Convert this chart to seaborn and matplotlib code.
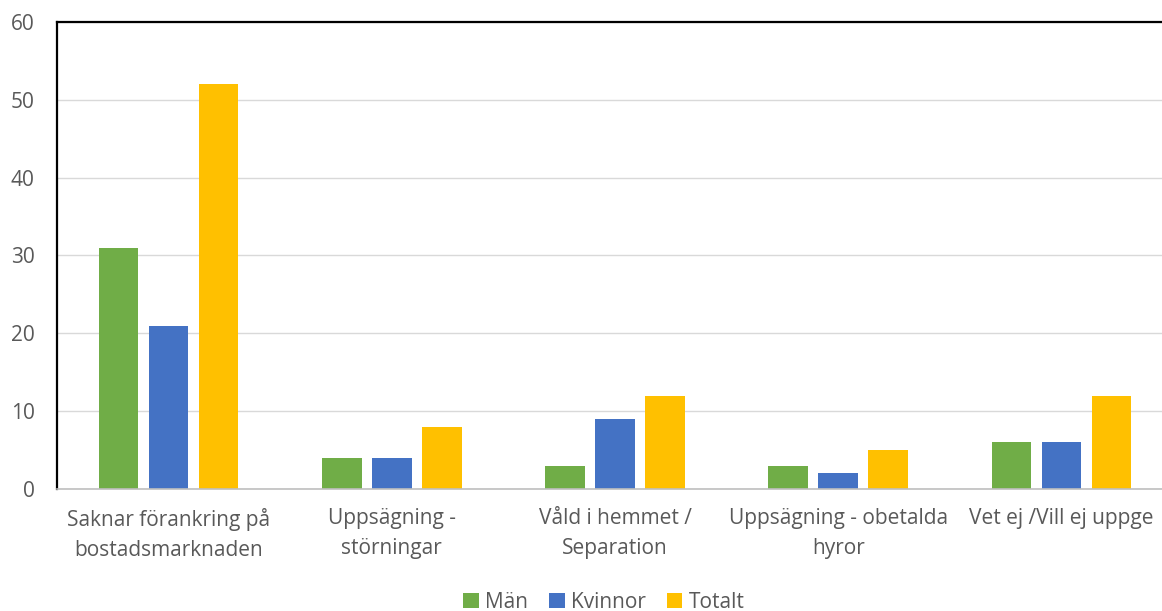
import pandas as pd
import matplotlib.pyplot as plt
import seaborn as sns

# Data
categories = ['Saknar förankring på\nbostadsmarknaden', 'Uppsägning -\nstörningar',
              'Våld i hemmet /\nSeparation', 'Uppsägning - obetalda\nhyror', 'Vet ej /Vill ej uppge']
man = [31, 4, 3, 3, 6]
kvinnor = [21, 4, 9, 2, 6]
totalt = [52, 8, 12, 5, 12]
series = ['Män', 'Kvinnor', 'Totalt']

df = pd.DataFrame({'Kategori': categories, 'Män': man, 'Kvinnor': kvinnor, 'Totalt': totalt})
long_df = df.melt(id_vars='Kategori', var_name='Grupp', value_name='Antal')

sns.set_style('white')
plt.rcParams['font.family'] = ['Open Sans', 'DejaVu Sans']
text_color = '#595959'

palette = {'Män': '#70AD47', 'Kvinnor': '#4472C4', 'Totalt': '#FFC000'}

fig = plt.figure(figsize=(11.62, 6.11), dpi=100)
ax = fig.add_axes([0.049, 0.1997, 0.9605, 0.7643])

sns.barplot(data=long_df, x='Kategori', y='Antal', hue='Grupp', hue_order=series,
            palette=palette, width=0.672, gap=0.21, saturation=1, linewidth=0, ax=ax)

ax.set_ylim(0, 60)
ax.set_yticks(range(0, 61, 10))
ax.set_xlim(-0.5, len(categories) - 0.5)
ax.grid(axis='y', color='#D9D9D9', linewidth=1)
ax.set_axisbelow(True)
ax.set_xlabel('')
ax.set_ylabel('')
ax.tick_params(axis='both', length=0, labelsize=15, colors=text_color)
ax.tick_params(axis='x', pad=14)
ax.tick_params(axis='y', pad=16)
for lbl in ax.get_xticklabels():
    lbl.set_linespacing(1.55)

for side in ['top', 'left']:
    ax.spines[side].set_color('black')
    ax.spines[side].set_linewidth(1.6)
ax.spines['right'].set_visible(False)
ax.spines['bottom'].set_color('#BFBFBF')
ax.spines['bottom'].set_linewidth(1.2)

ax.legend(loc='lower center', bbox_to_anchor=(0.49, -0.305), ncol=3, frameon=False,
          fontsize=15, handlelength=0.75, handleheight=0.75, handletextpad=0.3,
          columnspacing=1.0, labelcolor=text_color)

plt.savefig('out.png')
